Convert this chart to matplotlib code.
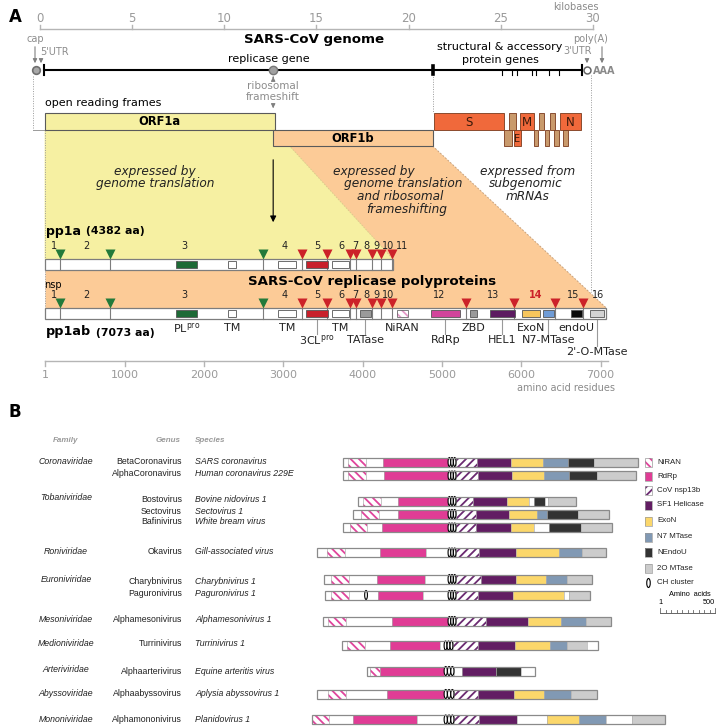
import matplotlib
matplotlib.use('Agg')
import matplotlib.pyplot as plt
from matplotlib.patches import Rectangle, Polygon, Ellipse
from matplotlib import font_manager

plt.rcParams['font.family'] = ['DejaVu Sans']
plt.rcParams['hatch.linewidth'] = 1.3

# ================= Panel A data =================
kb_ticks = [0, 5, 10, 15, 20, 25, 30]
aa_ticks = [1, 1000, 2000, 3000, 4000, 5000, 6000, 7000]
genome_span_kb = [0.2, 29.4]
cap_kb = -0.2
polyA_circle_kb = 29.67
frameshift_kb = 12.65
replicase_end_kb = 21.3
sg_marks_kb = [25.07, 25.6, 25.9, 26.7, 26.9, 27.6, 28.15]
polyA_kb = 29.9
orf1a_kb = [0.25, 12.75]
orf1b_kb = [12.65, 21.3]

sa_names = ['S', '', 'M', '', '', 'N', '', 'E', '', '', '', '']
sa_start_kb = [21.37, 25.46, 26.04, 27.05, 27.68, 28.23, 25.17, 25.70, 26.80, 27.38, 27.90, 28.36]
sa_end_kb = [25.19, 25.80, 26.80, 27.36, 27.94, 29.33, 25.60, 26.08, 27.03, 27.63, 28.16, 28.66]
sa_row = [0, 0, 0, 0, 0, 0, 1, 1, 1, 1, 1, 1]
sa_structural = [True, False, True, False, False, True, False, True, False, False, False, False]

pp1a_length = 4382
pp1ab_length = 7073
nsp_starts = [1, 181, 819, 2741, 3241, 3547, 3837, 3920, 4118, 4231, 4370, 5302, 5903, 6429, 6776]
plpro_sites = [181, 819, 2741]
mpro_sites = [3241, 3547, 3837, 3920, 4118, 4231, 4370, 5302, 5903, 6429, 6776]
nsp_label_ids = [1, 2, 3, 4, 5, 6, 7, 8, 9, 10, 11, 12, 13, 14, 15, 16]
nsp_label_aa = [108, 520, 1747, 3021, 3428, 3727, 3904, 4043, 4178, 4320, 4500, 4963, 5644, 6186, 6653, 6968]

dom_names = ['PL$^{\\mathrm{pro}}$', 'TM', 'TM', '3CL$^{\\mathrm{pro}}$', 'TM', 'TATase', 'NiRAN',
             'RdRp', 'ZBD', 'HEL1', 'ExoN', 'N7-MTase', 'endoU', "2'-O-MTase"]
dom_start = [1650, 2300, 2930, 3280, 3615, 3965, 4435, 4860, 5350, 5605, 6010, 6275, 6630, 6865]
dom_end = [1910, 2400, 3160, 3560, 3830, 4105, 4570, 5230, 5440, 5920, 6235, 6410, 6765, 7050]
dom_colors = ['#1d6a36', 'white', 'white', '#c8202b', 'white', '#9a9a9a', 'white',
              '#d2449b', '#9a9a9a', '#5c1b60', '#f7c65c', '#6f9cd6', '#0a0a0a', '#d3d3d3']
dom_hatched = [False] * 6 + [True] + [False] * 7
dom_in_pp1a = [True] * 5 + [False] * 9
dom_label_row = [0, 0, 0, 1, 0, 1, 0, 1, 0, 1, 0, 1, 0, 2]

# ================= Panel B data =================
b_family = ['Coronaviridae', 'Tobaniviridae', 'Roniviridae', 'Euroniviridae', 'Mesoniviridae',
            'Medioniviridae', 'Arteriviridae', 'Abyssoviridae', 'Mononiviridae']
b_family_row = [0, 2, 5, 6, 8, 9, 10, 11, 12]
b_genus = ['BetaCoronavirus', 'AlphaCoronavirus', 'Bostovirus', 'Sectovirus', 'Bafinivirus', 'Okavirus',
           'Charybnivirus', 'Paguronivirus', 'Alphamesonivirus', 'Turrinivirus', 'Alphaarterivirus',
           'Alphaabyssovirus', 'Alphamononivirus']
b_species = ['SARS coronavirus', 'Human coronavirus 229E', 'Bovine nidovirus 1', 'Sectovirus 1',
             'White bream virus', 'Gill-associated virus', 'Charybnivirus 1', 'Paguronivirus 1',
             'Alphamesonivirus 1', 'Turrinivirus 1', 'Equine arteritis virus', 'Aplysia abyssovirus 1',
             'Planidovirus 1']
# domain boundaries (aa, relative to start of CH cluster) and domain codes
b_bounds = [
    [-954, -909, -745, -591, 0, 73, 264, 573, 864, 1091, 1327, 1727],
    [-954, -909, -745, -582, 0, 73, 273, 582, 873, 1100, 1354, 1709],
    [-818, -773, -609, -455, 0, 73, 227, 536, 736, 782, 882, 909, 1164],
    [-864, -791, -627, -455, 0, 73, 255, 555, 809, 900, 1182, 1464],
    [-954, -891, -736, -600, 0, 73, 255, 573, 782, 918, 1209, 1491],
    [-1191, -1100, -936, -618, -200, 0, 73, 282, 618, 1009, 1218, 1436],
    [-1127, -1064, -900, -645, -209, 0, 73, 300, 618, 891, 1082, 1309],
    [-1118, -1064, -900, -636, -227, 0, 73, 273, 591, 1055, 1100, 1291],
    [-1136, -1091, -927, -509, 0, 73, 345, 727, 1027, 1254, 1482],
    [-964, -918, -755, -527, -73, -36, 45, 273, 609, 927, 1082, 1264, 1364],
    [-736, -709, -618, -36, 55, 127, 436, 664, 791],
    [-1191, -1091, -927, -555, -36, 55, 273, 600, 873, 1118, 1354],
    [-1236, -1082, -864, -282, -36, 55, 282, 627, 900, 1191, 1436, 1673, 1973],
]
b_types = [
    ['w', 'N', 'w', 'R', 'C', 'Z', 'H', 'E', 'M', 'U', 'O'],
    ['w', 'N', 'w', 'R', 'C', 'Z', 'H', 'E', 'M', 'U', 'O'],
    ['w', 'N', 'w', 'R', 'C', 'Z', 'H', 'E', 'w', 'U', 'w', 'O'],
    ['w', 'N', 'w', 'R', 'C', 'Z', 'H', 'E', 'M', 'U', 'O'],
    ['w', 'N', 'w', 'R', 'C', 'Z', 'H', 'E', 'w', 'U', 'O'],
    ['w', 'N', 'w', 'R', 'w', 'C', 'Z', 'H', 'E', 'M', 'O'],
    ['w', 'N', 'w', 'R', 'w', 'C', 'Z', 'H', 'E', 'M', 'O'],
    ['w', 'N', 'w', 'R', 'w', 'C', 'Z', 'H', 'E', 'w', 'O'],
    ['w', 'N', 'w', 'R', 'C', 'Z', 'H', 'E', 'M', 'O'],
    ['w', 'N', 'w', 'R', 'w', 'C', 'Z', 'H', 'E', 'M', 'O', 'w'],
    ['w', 'N', 'R', 'C', 'w', 'H', 'U', 'w'],
    ['w', 'N', 'w', 'R', 'C', 'Z', 'H', 'E', 'M', 'O'],
    ['N', 'w', 'R', 'w', 'C', 'Z', 'H', 'w', 'E', 'M', 'w', 'O'],
]
b_extra_ch = [None, None, None, None, None, None, None, -745, None, None, None, None, None]

legend_codes = ['N', 'R', 'Z', 'H', 'E', 'M', 'U', 'O', 'C']
legend_labels = ['NiRAN', 'RdRp', 'CoV nsp13b', 'SF1 Helicase', 'ExoN', 'N7 MTase', 'NEndoU',
                 '2O MTase', 'CH cluster']
scale_aa = [1, 500]

# ================= styles =================
YELLOW = '#f6f0a2'
PEACH = '#fccb97'
ORANGE = '#f0693b'
TAN = '#c99a6c'
GREY_T = '#8c8c8c'
B_FILL = {'w': 'white', 'N': 'white', 'R': '#e03c95', 'C': 'white', 'Z': 'white',
          'H': '#621d63', 'E': '#fbd76b', 'M': '#8199b4', 'U': '#333333', 'O': '#cccccc'}
B_HATCH = {'N': ('\\\\\\\\', '#e0449c'), 'Z': ('////', '#6b2a71')}

avail = {f.name for f in font_manager.fontManager.ttflist}
if 'Liberation Sans Narrow' in avail:
    BFONT, BFS = 'Liberation Sans Narrow', 7.4
elif 'Liberation Sans' in avail:
    BFONT, BFS = 'Liberation Sans', 6.3
else:
    BFONT, BFS = 'DejaVu Sans', 5.6

W, H = 721, 727
fig = plt.figure(figsize=(7.21, 7.27), dpi=100)


def make_axes(x0_px, scale):
    a = fig.add_axes([0, 0, 1, 1])
    a.set_xlim(-x0_px / scale, (W - x0_px) / scale)
    a.set_ylim(H, 0)
    a.axis('off')
    return a


ax = make_axes(0, 1.0)                         # layout pixels
axk = make_axes(40, 18.433)                    # kilobases
axa = make_axes(45.5 - 0.0793, 0.0793)         # amino acids (panel A)
axb = make_axes(448, 0.11)                     # amino acids (panel B, CH-aligned)


def kx(v):
    return axk.transData.transform((v, 0))[0]


def ax_aa(v):
    return axa.transData.transform((v, 0))[0]


# ---------------- panel letters ----------------
ax.text(15, 17, 'A', fontsize=12, fontweight='bold', ha='center', va='center')
ax.text(15, 412, 'B', fontsize=12, fontweight='bold', ha='center', va='center')

# ---------------- kb axis ----------------
axk.plot([kb_ticks[0], kb_ticks[-1]], [29, 29], color='#b5b5b5', lw=1)
for t in kb_ticks:
    axk.plot([t, t], [25, 29], color='#b5b5b5', lw=1)
    axk.text(t, 18, str(t), ha='center', va='center', color='#9a9a9a', fontsize=8.5)
ax.text(576, 6.5, 'kilobases', ha='center', va='center', color='#8a8a8a', fontsize=7)

# ---------------- genome ----------------
ax.text(314, 40, 'SARS-CoV genome', fontsize=9.6, fontweight='bold', ha='center', va='center')
ax.text(269, 59, 'replicase gene', fontsize=8, ha='center', va='center')
ax.text(500, 47, 'structural & accessory', fontsize=8, ha='center', va='center')
ax.text(500, 60, 'protein genes', fontsize=8, ha='center', va='center')

axk.plot(genome_span_kb, [70, 70], color='black', lw=1.5, zorder=3)
for g in genome_span_kb:
    axk.plot([g, g], [65, 75], color='black', lw=1.5, zorder=3)
axk.plot([replicase_end_kb, replicase_end_kb], [66, 74], color='black', lw=2.6, zorder=3)
for m in sg_marks_kb:
    axk.plot([m, m], [70, 75], color='black', lw=0.8, zorder=3)
axk.plot(cap_kb, 70, 'o', ms=5.5, mfc='#a8a8a8', mec='#6f6f6f', mew=1.2, zorder=4)
axk.plot(frameshift_kb, 70, 'o', ms=6, mfc='#a0a0a0', mec='#777777', mew=1, zorder=4)
axk.plot(polyA_circle_kb, 70, 'o', ms=5, mfc='white', mec='#666666', mew=1.1, zorder=4)
ax.text(593, 70.5, 'AAA', fontsize=7, fontweight='bold', color='#8a8a8a', ha='left', va='center')

arrow_g = dict(arrowstyle='-|>', color='#808080', lw=0.8, mutation_scale=6)
ax.text(35, 39, 'cap', fontsize=7, color=GREY_T, ha='center', va='center')
ax.annotate('', xy=(35, 66), xytext=(35, 44), arrowprops=arrow_g)
ax.text(40, 52, "5'UTR", fontsize=7, color=GREY_T, ha='left', va='center')
ax.annotate('', xy=(41, 66), xytext=(41, 57), arrowprops=arrow_g)
ax.text(591, 39, 'poly(A)', fontsize=7, color=GREY_T, ha='center', va='center')
ax.annotate('', xy=(602, 66), xytext=(602, 44), arrowprops=arrow_g)
ax.text(578, 51, "3'UTR", fontsize=7, color=GREY_T, ha='center', va='center')
ax.annotate('', xy=(587, 66), xytext=(587, 57), arrowprops=arrow_g)

fx = kx(frameshift_kb)
ax.annotate('', xy=(fx, 74), xytext=(fx, 80), arrowprops=arrow_g)
ax.text(fx, 86, 'ribosomal', fontsize=7.5, color=GREY_T, ha='center', va='center')
ax.text(fx, 97, 'frameshift', fontsize=7.5, color=GREY_T, ha='center', va='center')
ax.annotate('', xy=(fx, 111), xytext=(fx, 103), arrowprops=arrow_g)

dot = dict(color='#9a9a9a', lw=0.7, ls=(0, (1, 1.5)))
ax.plot([33, 33], [76, 130], **dot)
ax.plot([33, kx(orf1a_kb[0])], [130, 130], color='#9a9a9a', lw=0.7)
axk.plot([orf1a_kb[0], orf1a_kb[0]], [130, 310], **dot)
axk.plot([replicase_end_kb, replicase_end_kb], [74, 113], **dot)
axk.plot([polyA_kb, polyA_kb], [75, 292], **dot)

# ---------------- expression regions ----------------
peach = Polygon([(kx(orf1b_kb[0]), 146), (kx(orf1b_kb[1]), 146), (ax_aa(pp1ab_length), 308),
                 (ax_aa(1), 308), (ax_aa(1), 146)], closed=True, fc=PEACH, ec='none', zorder=0.5)
ax.add_patch(peach)
yellow = Polygon([(kx(orf1a_kb[0]), 130), (kx(orf1a_kb[1]), 130), (ax_aa(pp1a_length), 259),
                  (kx(orf1a_kb[0]), 259)], closed=True, fc=YELLOW, ec='none', zorder=0.6)
ax.add_patch(yellow)
ax.plot([kx(orf1b_kb[1]), ax_aa(pp1ab_length)], [146, 308], color='#c9a27c', lw=0.7,
        ls=(0, (2, 1.5)), zorder=0.7)
ax.plot([kx(orf1a_kb[1]), ax_aa(pp1a_length)], [130, 259], color='#d9c98a', lw=0.6,
        ls=(0, (2, 1.5)), zorder=0.7)

ax.text(45, 103, 'open reading frames', fontsize=8, ha='left', va='center')
axk.add_patch(Rectangle((orf1a_kb[0], 113), orf1a_kb[1] - orf1a_kb[0], 17, fc=YELLOW, ec='#5a5a5a',
                        lw=0.8, zorder=2))
axk.text(sum(orf1a_kb) / 2, 121.5, 'ORF1a', fontsize=8.3, fontweight='bold', ha='center', va='center', zorder=3)
axk.add_patch(Rectangle((orf1b_kb[0], 130), orf1b_kb[1] - orf1b_kb[0], 16, fc=PEACH, ec='#5a5a5a',
                        lw=0.8, zorder=2))
axk.text(sum(orf1b_kb) / 2, 138, 'ORF1b', fontsize=8.3, fontweight='bold', ha='center', va='center', zorder=3)

for name, s, e, r, st in zip(sa_names, sa_start_kb, sa_end_kb, sa_row, sa_structural):
    y0 = 113 if r == 0 else 130
    h = 17 if r == 0 else 16
    axk.add_patch(Rectangle((s, y0), e - s, h, fc=ORANGE if st else TAN, ec='#7a3a1c', lw=0.6, zorder=2))
    if name:
        axk.text((s + e) / 2, y0 + h / 2 + 0.5, name, fontsize=8.5 if name != 'E' else 7,
                 ha='center', va='center', color='#3a1a0a', zorder=3)

ax.annotate('', xy=(fx, 225), xytext=(fx, 157),
            arrowprops=dict(arrowstyle='-|>', color='black', lw=0.8, mutation_scale=9))

it = dict(fontsize=8.7, style='italic', ha='center', va='center', color='#222222')
ax.text(155, 172, 'expressed by', **it)
ax.text(155, 184, 'genome translation', **it)
ax.text(374, 172, 'expressed by', **it)
ax.text(403, 184, 'genome translation', **it)
ax.text(400, 197, 'and ribosomal', **it)
ax.text(407, 209, 'frameshifting', **it)
ax.text(528, 172, 'expressed from', **it)
ax.text(526, 184, 'subgenomic', **it)
ax.text(528, 197, 'mRNAs', **it)

# ---------------- polyproteins ----------------
ax.text(46, 231, 'pp1a', fontsize=9, fontweight='bold', ha='left', va='center')
ax.text(86, 231.5, '(4382 aa)', fontsize=7.8, fontweight='bold', ha='left', va='center')
ax.text(372, 282, 'SARS-CoV replicase polyproteins', fontsize=9.6, fontweight='bold',
        ha='center', va='center')
ax.text(44, 285.5, 'nsp', fontsize=7, ha='left', va='center')
ax.text(46, 332, 'pp1ab', fontsize=9.2, fontweight='bold', ha='left', va='center')
ax.text(96, 332.5, '(7073 aa)', fontsize=7.8, fontweight='bold', ha='left', va='center')


def draw_pp(y_top, length, ids, in_pp):
    h = 11
    axa.add_patch(Rectangle((1, y_top), length - 1, h, fc='white', ec='#7d7d7d', lw=0.9, zorder=2))
    for b in nsp_starts[1:]:
        if b < length:
            axa.plot([b, b], [y_top, y_top + h], color='#7d7d7d', lw=0.8, zorder=3)
    for k in range(len(dom_names)):
        if not in_pp[k]:
            continue
        s, e = dom_start[k], dom_end[k]
        if dom_hatched[k]:
            axa.add_patch(Rectangle((s, y_top + 2), e - s, h - 4, fc='white', ec='#e59ac8',
                                    hatch='\\\\\\\\', lw=0, zorder=4))
            axa.add_patch(Rectangle((s, y_top + 2), e - s, h - 4, fc='none', ec='#6a6a6a', lw=0.6, zorder=5))
        else:
            axa.add_patch(Rectangle((s, y_top + 2), e - s, h - 4, fc=dom_colors[k], ec='#555555',
                                    lw=0.6, zorder=4))
    gs = [p for p in plpro_sites if p < length]
    rs = [p for p in mpro_sites if p < length]
    axa.plot(gs, [y_top - 5] * len(gs), 'v', ms=7, color='#237a3a', mec='none', zorder=5)
    axa.plot(rs, [y_top - 5] * len(rs), 'v', ms=7, color='#cc2229', mec='none', zorder=5)
    for i, xa in zip(nsp_label_ids, nsp_label_aa):
        if i in ids:
            red = (i == 14)
            axa.text(xa, y_top - 13, str(i), fontsize=7, ha='center', va='center',
                     color='#cc2229' if red else '#222222', fontweight='bold' if red else 'normal', zorder=5)


draw_pp(259, pp1a_length, list(range(1, 12)), dom_in_pp1a)
draw_pp(308, pp1ab_length, list(range(1, 11)) + list(range(12, 17)), [True] * len(dom_names))

row_y = [328, 340, 352]
for k, name in enumerate(dom_names):
    xc = (dom_start[k] + dom_end[k]) / 2
    r = dom_label_row[k]
    if r > 0:
        axa.plot([xc, xc], [319, row_y[r] - 6], color='#9a9a9a', lw=0.8, zorder=1)
    axa.text(xc, row_y[r], name, fontsize=8, ha='center', va='center', color='#222222', zorder=5)

# aa axis
axa.plot([1, 7094], [361, 361], color='#b5b5b5', lw=1)
for t in aa_ticks:
    axa.plot([t, t], [361, 366], color='#b5b5b5', lw=1)
    axa.text(t, 375, str(t), fontsize=8, ha='center', va='center', color='#9a9a9a')
ax.text(615, 388, 'amino acid residues', fontsize=7, ha='right', va='center', color='#8a8a8a')

# ================= Panel B =================
hdr = dict(fontsize=BFS - 0.5, style='italic', fontweight='bold', color='#9a9a9a', va='center',
           family=BFONT)
ax.text(66, 440, 'Family', ha='center', **hdr)
ax.text(181, 440, 'Genus', ha='right', **hdr)
ax.text(195, 440, 'Species', ha='left', **hdr)

b_text_y = [462, 473, 499, 511, 522, 552, 581, 593, 620, 644, 671, 694, 720]
b_bar_y = [462, 475.5, 501, 514, 527.5, 552.5, 579, 595, 621, 645.5, 671, 694, 719.5]

for fam, r in zip(b_family, b_family_row):
    ax.text(66, b_text_y[r] - 1, fam, fontsize=BFS, style='italic', ha='center', va='center',
            family=BFONT, color='#222222')
for i in range(len(b_genus)):
    ax.text(182, b_text_y[i], b_genus[i], fontsize=BFS, ha='right', va='center', family=BFONT,
            color='#222222')
    ax.text(195, b_text_y[i], b_species[i], fontsize=BFS, style='italic', ha='left', va='center',
            family=BFONT, color='#222222')


def b_segment(target, x0, x1, yc, code, h=9):
    if code in B_HATCH:
        hp, hc = B_HATCH[code]
        target.add_patch(Rectangle((x0, yc - h / 2), x1 - x0, h, fc='white', ec=hc, hatch=hp, lw=0, zorder=2))
    else:
        target.add_patch(Rectangle((x0, yc - h / 2), x1 - x0, h, fc=B_FILL[code], ec='none', lw=0, zorder=2))


def ch_cluster(target, x0, x1, yc, n=3, h=9):
    w = (x1 - x0) / n
    for j in range(n):
        target.add_patch(Ellipse((x0 + w * (j + 0.5), yc), w * 0.95, h, fc='white', ec='black',
                                 lw=0.8, zorder=4))


for i, (bnd, tps) in enumerate(zip(b_bounds, b_types)):
    yc = b_bar_y[i]
    for j, code in enumerate(tps):
        x0, x1 = bnd[j], bnd[j + 1]
        b_segment(axb, x0, x1, yc, code)
        if code == 'C':
            ch_cluster(axb, x0, x1, yc)
    for xb in bnd[1:-1]:
        axb.plot([xb, xb], [yc - 4.5, yc + 4.5], color='#b0b0b0', lw=0.5, zorder=3)
    axb.add_patch(Rectangle((bnd[0], yc - 4.5), bnd[-1] - bnd[0], 9, fc='none', ec='#8a8a8a', lw=0.9, zorder=5))
    if b_extra_ch[i] is not None:
        axb.add_patch(Ellipse((b_extra_ch[i], yc), 25, 9, fc='white', ec='black', lw=0.8, zorder=4))

# legend
leg_y = [462, 476, 490, 505, 521, 537, 552, 568, 583]
for code, lab, y in zip(legend_codes, legend_labels, leg_y):
    if code == 'C':
        ax.add_patch(Ellipse((648.5, y), 3.5, 9, fc='white', ec='black', lw=0.8))
    else:
        b_segment(ax, 645, 652, y, code)
        ax.add_patch(Rectangle((645, y - 4.5), 7, 9, fc='none', ec='#9a9a9a', lw=0.5, zorder=3))
    ax.text(657, y, lab, fontsize=BFS - 0.6, ha='left', va='center', family=BFONT, color='#222222')

sx0 = axb.transData.inverted().transform((660, 0))[0]
axb.plot([sx0 + scale_aa[0], sx0 + scale_aa[1]], [613, 613], color='#666666', lw=0.7)
for t in range(0, scale_aa[1] + 1, 50):
    tt = sx0 + max(t, scale_aa[0])
    axb.plot([tt, tt], [613, 608 if t in (0, scale_aa[1]) else 609.5], color='#666666', lw=0.6)
axb.text(sx0 + scale_aa[0], 602, str(scale_aa[0]), fontsize=BFS - 1, ha='center', va='center', family=BFONT)
axb.text(sx0 + scale_aa[1], 602, str(scale_aa[1]), fontsize=BFS - 1, ha='right', va='center', family=BFONT)
axb.text(sx0 + (scale_aa[0] + scale_aa[1]) / 2 + 20, 595, 'Amino  acids', fontsize=BFS - 1,
         ha='center', va='center', family=BFONT)

fig.savefig('out.png', dpi=100)
